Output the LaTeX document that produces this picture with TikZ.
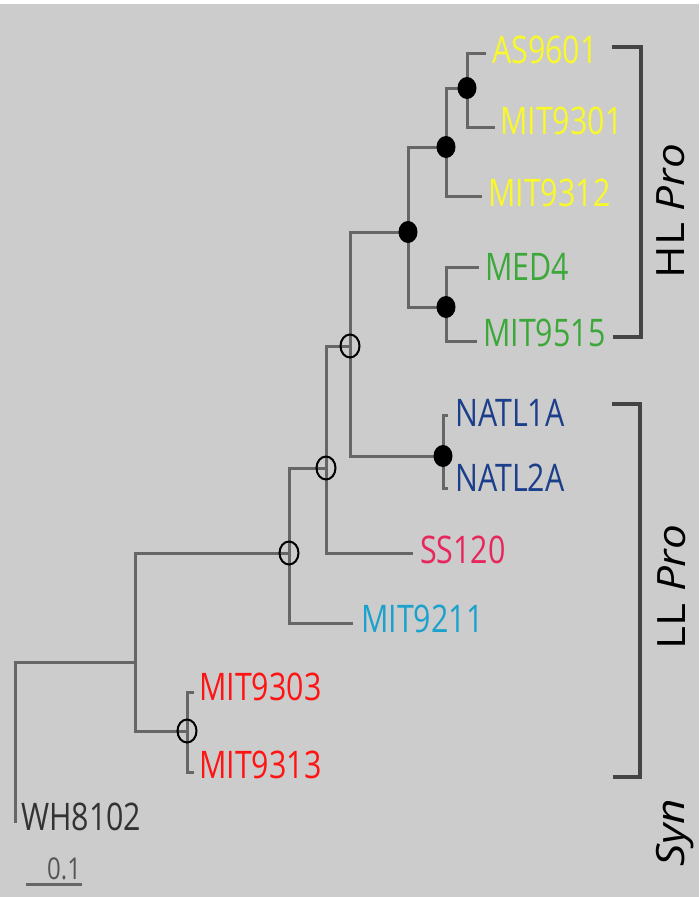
\documentclass[tikz,border=0pt]{standalone}
\usepackage{fontspec}
\setmainfont{Open Sans}
\newfontfamily\taxonfont[FakeStretch=0.8]{Open Sans}
\newfontfamily\cladefont[FakeStretch=1.13]{Open Sans}
\usetikzlibrary{positioning}
\definecolor{panelbg}{HTML}{CCCCCC}
\definecolor{treeline}{HTML}{666666}
\definecolor{bracketline}{HTML}{444444}
\definecolor{hlyellow}{HTML}{F8F82C}
\definecolor{hlgreen}{HTML}{3DA83A}
\definecolor{natlblue}{HTML}{1C3F8C}
\definecolor{sspink}{HTML}{E8265E}
\definecolor{mitcyan}{HTML}{1AA2CC}
\definecolor{synred}{HTML}{FF1414}
\definecolor{outgroup}{HTML}{333333}
\definecolor{scalegray}{HTML}{555555}

\begin{document}
\begin{tikzpicture}[x=1pt,y=-1pt,
 branch/.style={draw=treeline,line width=3pt},
 taxon/.style={anchor=west,inner sep=0pt,font=\taxonfont\fontsize{38}{40}\selectfont},
 clade/.style={draw=bracketline,line width=4pt},
 cladelbl/.style={rotate=90,inner sep=0pt,font=\cladefont\fontsize{39}{42}\selectfont},
 strong/.style={fill=black},
 weak/.style={draw=black,line width=2pt}]
\useasboundingbox (0,0) rectangle (699,897);
\fill[white] (0,0) rectangle (699,4);
\fill[panelbg] (0,4) rectangle (699,897);
% inner nodes
\coordinate (nA) at (135,662);
\coordinate (nB) at (289,553);
\coordinate (nC) at (326,468);
\coordinate (nD) at (350,346);
\coordinate (nE) at (408,232);
\coordinate (nF) at (446,147);
\coordinate (nG) at (467,88);
\coordinate (nH) at (446,307);
\coordinate (nN) at (443,456);
\coordinate (nM) at (187,731);
% tips
\coordinate (tAS9601) at (486,53);
\coordinate (tMIT9301) at (495,127);
\coordinate (tMIT9312) at (482,196);
\coordinate (tMED4) at (479,267);
\coordinate (tMIT9515) at (477,341);
\coordinate (tNATL1A) at (448,415);
\coordinate (tNATL2A) at (448,488);
\coordinate (tSS120) at (413,553);
\coordinate (tMIT9211) at (353,623);
\coordinate (tMIT9303) at (194,692);
\coordinate (tMIT9313) at (194,772);
\coordinate (tWH8102) at (15,823);
% branches
\draw[branch] (nA) -| (tWH8102);
\draw[branch] (nB) -| (nA) |- (nM);
\draw[branch] (nC) -| (nB) |- (tMIT9211);
\draw[branch] (nD) -| (nC) |- (tSS120);
\draw[branch] (nE) -| (nD) |- (nN);
\draw[branch] (tNATL1A) -| (nN) |- (tNATL2A);
\draw[branch] (nF) -| (nE) |- (nH);
\draw[branch] (nG) -| (nF) |- (tMIT9312);
\draw[branch] (tAS9601) -| (nG) |- (tMIT9301);
\draw[branch] (tMED4) -| (nH) |- (tMIT9515);
\draw[branch] (tMIT9303) -| (nM) |- (tMIT9313);
% support marks
\foreach \n in {nE,nF,nG,nH,nN}
 \fill[strong] (\n) ellipse [x radius=9.5,y radius=11];
\foreach \n in {nB,nC,nD,nM}
 \draw[weak] (\n) ellipse [x radius=9.5,y radius=11.5];
% taxa
\node[taxon,text=hlyellow] (lAS9601) at (492,50) {AS9601};
\node[taxon,text=hlyellow] (lMIT9301) at (500,121) {MIT9301};
\node[taxon,text=hlyellow] (lMIT9312) at (488,193) {MIT9312};
\node[taxon,text=hlgreen] (lMED4) at (485,267) {MED4};
\node[taxon,text=hlgreen] (lMIT9515) at (483,333) {MIT9515};
\node[taxon,text=natlblue] (lNATL1A) at (455,413) {NATL1A};
\node[taxon,text=natlblue] (lNATL2A) at (455,478) {NATL2A};
\node[taxon,text=sspink] (lSS120) at (420,550) {SS120};
\node[taxon,text=mitcyan] (lMIT9211) at (361,619) {MIT9211};
\node[taxon,text=synred] (lMIT9303) at (199,687) {MIT9303};
\node[taxon,text=synred] (lMIT9313) at (199,765) {MIT9313};
\node[taxon,text=outgroup] (lWH8102) at (21,817) {WH8102};
% scale bar
\coordinate (sbL) at (26,884);
\coordinate (sbR) at (82,884);
\draw[draw=treeline,line width=3pt] (sbL) -- (sbR);
\node[taxon,text=scalegray,font=\taxonfont\fontsize{30}{32}\selectfont] (lScale) at (47,869) {0.1};
% clade brackets
\coordinate (hlTop) at (612,47);
\coordinate (hlBot) at (613,337);
\coordinate (llTop) at (612,404);
\coordinate (llBot) at (613,777);
\draw[clade] (hlTop) -- ++(29,0) |- (hlBot);
\draw[clade] (llTop) -- ++(28,0) |- (llBot);
\node[cladelbl] (hlName) at (671,211) {HL \textit{Pro}};
\node[cladelbl] (llName) at (672,587) {LL \textit{Pro}};
\node[cladelbl] (synName) at (675,833) {\textit{Syn}};
\end{tikzpicture}
\end{document}
